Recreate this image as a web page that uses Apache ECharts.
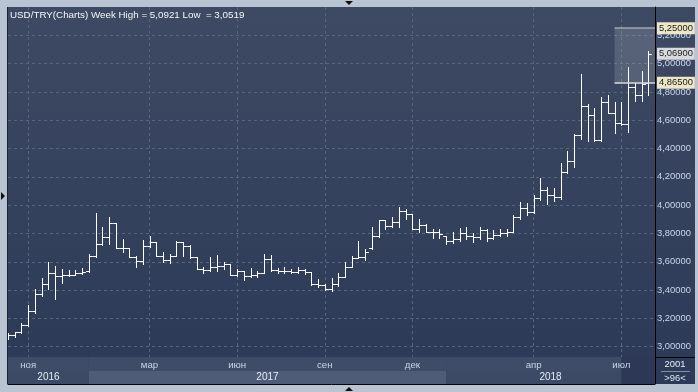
<!DOCTYPE html>
<html><head><meta charset="utf-8">
<script src="https://cdn.jsdelivr.net/npm/echarts@6/dist/echarts.min.js"></script>
<style>html,body{margin:0;padding:0;background:#b9c4d2;}#c{width:698px;height:392px;}</style>
</head><body><div id="c"></div><script>
// ---- data ----
const weeks = ['2016-10-10','2016-10-17','2016-10-24','2016-10-31','2016-11-07','2016-11-14','2016-11-21','2016-11-28','2016-12-05','2016-12-12',
'2016-12-19','2016-12-26','2017-01-01','2017-01-02','2017-01-09','2017-01-16','2017-01-23','2017-01-30','2017-02-06','2017-02-13',
'2017-02-20','2017-02-27','2017-03-06','2017-03-13','2017-03-20','2017-03-27','2017-04-03','2017-04-10','2017-04-17','2017-04-24',
'2017-05-01','2017-05-08','2017-05-15','2017-05-22','2017-05-29','2017-06-05','2017-06-12','2017-06-19','2017-06-26','2017-07-03',
'2017-07-10','2017-07-17','2017-07-24','2017-07-31','2017-08-07','2017-08-14','2017-08-21','2017-08-28','2017-09-04','2017-09-11',
'2017-09-18','2017-09-25','2017-10-02','2017-10-09','2017-10-16','2017-10-23','2017-10-30','2017-11-06','2017-11-13','2017-11-20',
'2017-11-27','2017-12-04','2017-12-11','2017-12-18','2017-12-25','2018-01-01','2018-01-08','2018-01-15','2018-01-22','2018-01-29',
'2018-02-05','2018-02-12','2018-02-19','2018-02-26','2018-03-05','2018-03-12','2018-03-19','2018-03-26','2018-04-02','2018-04-09',
'2018-04-16','2018-04-23','2018-04-30','2018-05-07','2018-05-14','2018-05-21','2018-05-28','2018-06-04','2018-06-11','2018-06-18',
'2018-06-25','2018-07-02','2018-07-09','2018-07-16','2018-07-23','2018-07-30','2018-08-06'];

const openP = [3.075,3.085,3.102,3.154,3.249,3.370,3.446,3.524,3.496,3.505,
3.510,3.520,3.534,3.640,3.728,3.774,3.875,3.698,3.700,3.631,
3.605,3.712,3.738,3.638,3.614,3.638,3.742,3.709,3.633,3.548,
3.543,3.560,3.572,3.584,3.505,3.536,3.500,3.505,3.520,3.619,
3.541,3.536,3.536,3.529,3.543,3.529,3.441,3.434,3.411,3.441,
3.491,3.560,3.624,3.631,3.700,3.785,3.892,3.856,3.880,3.956,
3.940,3.833,3.861,3.813,3.809,3.780,3.750,3.760,3.804,3.780,
3.774,3.821,3.770,3.790,3.804,3.809,3.916,3.982,3.951,4.051,
4.105,4.075,4.060,4.231,4.312,4.497,4.699,4.635,4.461,4.732,
4.651,4.580,4.570,4.838,4.778,4.860];

const highP = [3.095,3.102,3.168,3.297,3.411,3.482,3.600,3.572,3.548,3.543,
3.539,3.553,3.653,3.944,3.845,3.918,3.875,3.762,3.700,3.638,
3.752,3.785,3.738,3.667,3.655,3.750,3.742,3.719,3.633,3.560,
3.631,3.648,3.596,3.584,3.548,3.536,3.553,3.536,3.655,3.648,
3.553,3.560,3.548,3.560,3.548,3.529,3.477,3.441,3.482,3.524,
3.600,3.643,3.750,3.690,3.845,3.892,3.892,3.916,3.987,3.970,
3.940,3.904,3.868,3.833,3.828,3.785,3.809,3.838,3.845,3.804,
3.845,3.828,3.821,3.833,3.833,3.932,4.023,4.018,4.075,4.194,
4.130,4.120,4.295,4.383,4.502,4.929,4.715,4.687,4.763,4.777,
4.730,4.730,4.976,4.865,4.945,5.0921];

const lowP = [3.0519,3.069,3.098,3.149,3.240,3.358,3.406,3.339,3.453,3.500,
3.505,3.515,3.525,3.635,3.720,3.726,3.695,3.667,3.631,3.560,
3.581,3.705,3.638,3.596,3.591,3.638,3.638,3.624,3.548,3.524,
3.536,3.536,3.548,3.505,3.500,3.472,3.489,3.489,3.520,3.536,
3.524,3.524,3.520,3.524,3.512,3.434,3.425,3.401,3.394,3.429,
3.489,3.560,3.624,3.614,3.690,3.774,3.828,3.845,3.845,3.904,
3.828,3.809,3.809,3.767,3.767,3.726,3.735,3.750,3.760,3.740,
3.760,3.750,3.760,3.781,3.785,3.809,3.904,3.932,3.947,4.034,
4.011,4.030,4.040,4.224,4.272,4.470,4.450,4.454,4.454,4.651,
4.509,4.564,4.516,4.734,4.735,4.777];

const closeP = [3.085,3.102,3.154,3.249,3.370,3.446,3.524,3.496,3.505,3.510,
3.520,3.529,3.640,3.728,3.774,3.875,3.698,3.700,3.631,3.605,
3.712,3.738,3.638,3.614,3.638,3.742,3.709,3.633,3.548,3.543,
3.560,3.572,3.584,3.505,3.536,3.500,3.505,3.520,3.619,3.541,
3.536,3.536,3.529,3.543,3.529,3.441,3.434,3.411,3.441,3.491,
3.560,3.624,3.631,3.671,3.785,3.892,3.856,3.880,3.956,3.940,
3.833,3.861,3.813,3.809,3.797,3.750,3.760,3.804,3.780,3.774,
3.821,3.770,3.790,3.804,3.809,3.916,3.982,3.951,4.051,4.105,
4.075,4.060,4.231,4.312,4.497,4.699,4.635,4.461,4.732,4.651,
4.580,4.570,4.838,4.778,4.853,5.069];

const monthMarks = {'2016-10-31':'ноя','2017-02-27':'мар','2017-05-29':'июн','2017-08-28':'сен','2017-11-27':'дек','2018-04-02':'апр','2018-07-02':'июл'};
const yearBands = [['2016','2016-10-10','2017-01-01'],['2017','2017-01-01','2018-01-01'],['2018','2018-01-01','2018-08-06']];
const currentMonth = ['2018-07-02','2018-08-06'];
const boxFrom = '2018-06-25', boxTo = '2018-08-06';
const boxHigh = 5.25, boxLow = 4.865;
const lastClose = 5.069;
const yTicks = {min: 2.8, max: 5.4, step: 0.2};
const cornerTop = '2001', cornerBottom = '>96<';
const symbolName = 'USD/TRY(Charts) Week';

// ---- chart ----
const FONT = '"Liberation Sans",Arial,sans-serif';
const FS = 9.4;
const fmt = (v, d) => v.toFixed(d).replace('.', ',');
const maxH = Math.max(...highP), minL = Math.min(...lowP);
const titleText = symbolName + ' High = ' + fmt(maxH, 4) + ' Low  = ' + fmt(minL, 4);

const ohlc = openP.map((o, i) => [i, o, highP[i], lowP[i], closeP[i]]);
const bandData = yearBands.map(b => [weeks.indexOf(b[1]), weeks.indexOf(b[2]), b[0], 0]);
bandData.push([weeks.indexOf(currentMonth[0]), weeks.indexOf(currentMonth[1]), '', 1]);

const chart = echarts.init(document.getElementById('c'), null, {renderer: 'canvas'});
const tagLabel = (bg) => ({
  show: true, position: 'end', distance: 2, formatter: p => fmt(Number(p.value), 5),
  color: '#1a1a1a', backgroundColor: bg, padding: [2, 2, 1, 2], fontSize: FS, fontFamily: FONT
});

chart.setOption({
  animation: false,
  backgroundColor: '#b9c4d2',
  title: {text: titleText, left: 10, top: 10, padding: 0,
    textStyle: {color: '#f4f6fa', fontSize: 9.8, fontWeight: 'normal', fontFamily: FONT}},
  graphic: [
    {type: 'rect', z: -10, shape: {x: 8, y: 7, width: 687, height: 377},
      style: {fill: new echarts.graphic.LinearGradient(0, 0, 0, 1, [{offset: 0, color: '#3e4a63'}, {offset: 1, color: '#2c3957'}])}},
    {type: 'line', z: 100, shape: {x1: 7.5, y1: 7, x2: 7.5, y2: 384}, style: {stroke: '#1b2233', lineWidth: 1}},
    {type: 'line', z: 100, shape: {x1: 655.5, y1: 7, x2: 655.5, y2: 384}, style: {stroke: '#000', lineWidth: 1}},
    {type: 'line', z: 100, shape: {x1: 655, y1: 357.5, x2: 695, y2: 357.5}, style: {stroke: '#000', lineWidth: 1}},
    {type: 'line', z: 100, shape: {x1: 661, y1: 371.5, x2: 690, y2: 371.5}, style: {stroke: '#8190a8', lineWidth: 1}},
    {type: 'text', z: 100, x: 675, y: 364.5, style: {text: cornerTop, fill: '#e8eef8', font: FS + 'px ' + FONT, textAlign: 'center', textVerticalAlign: 'middle'}},
    {type: 'text', z: 100, x: 675, y: 378, style: {text: cornerBottom, fill: '#dfe6f2', font: FS + 'px ' + FONT, textAlign: 'center', textVerticalAlign: 'middle'}},
    {type: 'polygon', z: 100, shape: {points: [[345, 1], [353, 1], [349, 5]]}, style: {fill: '#111'}},
    {type: 'polygon', z: 100, shape: {points: [[1, 192], [1, 200], [5, 196]]}, style: {fill: '#111'}},
    {type: 'polygon', z: 100, shape: {points: [[345, 391], [353, 391], [349, 387]]}, style: {fill: '#111'}}
  ],
  grid: [
    {left: 8, top: 7, width: 647, height: 368, show: false},
    {left: 8, top: 357, width: 647, height: 27, show: false}
  ],
  xAxis: [
    {type: 'category', gridIndex: 0, data: weeks, boundaryGap: false,
      axisLine: {show: false}, axisTick: {show: false}, axisLabel: {show: false},
      splitLine: {show: true, interval: (i, v) => v in monthMarks, lineStyle: {color: '#56647e', type: [3, 3], width: 1}}},
    {type: 'category', gridIndex: 1, data: weeks, boundaryGap: false, position: 'top', z: 10,
      axisLine: {show: true, lineStyle: {color: '#000', width: 1}}, axisTick: {show: false},
      axisLabel: {inside: true, margin: 3, interval: (i, v) => v in monthMarks, formatter: v => monthMarks[v] || '',
        color: '#c9d4e4', fontSize: FS + 0.3, fontFamily: FONT},
      splitLine: {show: false}}
  ],
  yAxis: [
    {type: 'value', gridIndex: 0, position: 'right', min: yTicks.min, max: yTicks.max, interval: yTicks.step,
      axisLine: {show: true, lineStyle: {color: '#000'}}, axisTick: {show: false},
      axisLabel: {formatter: v => fmt(v, 5), color: '#c9d6ea', fontSize: FS, fontFamily: FONT, margin: 2,
        showMinLabel: false, showMaxLabel: false},
      splitLine: {show: true, showMaxLine: false, lineStyle: {color: '#56647e', type: [3, 3], width: 1}}},
    {type: 'value', gridIndex: 1, min: 0, max: 2, show: false}
  ],
  series: [
    {
      type: 'custom', xAxisIndex: 0, yAxisIndex: 0, data: ohlc, clip: true,
      encode: {x: 0, y: [1, 2, 3, 4]},
      renderItem: (params, api) => {
        const i = api.value(0);
        const o = api.coord([i, api.value(1)]);
        const h = api.coord([i, api.value(2)]);
        const l = api.coord([i, api.value(3)]);
        const c = api.coord([i, api.value(4)]);
        const half = api.size([1, 0])[0] / 2;
        const x = Math.round(h[0]) + 0.5;
        const sy = v => Math.round(v) + 0.5;
        const st = {stroke: '#ffffff', lineWidth: 1};
        return {type: 'group', children: [
          {type: 'line', shape: {x1: x, y1: Math.round(h[1]), x2: x, y2: Math.round(l[1]) + 1}, style: st},
          {type: 'line', shape: {x1: x - half, y1: sy(o[1]), x2: x, y2: sy(o[1])}, style: st},
          {type: 'line', shape: {x1: x, y1: sy(c[1]), x2: x + half, y2: sy(c[1])}, style: st}
        ]};
      },
      markArea: {silent: true, itemStyle: {color: 'rgba(255,255,255,0.14)'},
        data: [[{xAxis: boxFrom, yAxis: boxLow}, {xAxis: boxTo, yAxis: boxHigh}]]},
      markLine: {silent: true, symbol: ['none', 'none'], animation: false, precision: 5,
        data: [
          {yAxis: lastClose, value: lastClose, lineStyle: {color: 'rgba(0,0,0,0)', width: 0}, label: tagLabel('#d7dade')},
          [{coord: [boxFrom, boxHigh], value: boxHigh, lineStyle: {color: '#a1a8b5', width: 1.5, type: 'solid'}, label: tagLabel('#ede6c7')},
           {coord: [boxTo, boxHigh]}],
          [{coord: [boxFrom, boxLow], value: boxLow, lineStyle: {color: '#dcdcd5', width: 1.5, type: 'solid'}, label: tagLabel('#ede6c7')},
           {coord: [boxTo, boxLow]}]
        ]}
    },
    {
      type: 'custom', xAxisIndex: 1, yAxisIndex: 1, data: bandData, z: 5, clip: false,
      renderItem: (params, api) => {
        const cs = params.coordSys;
        const a = api.coord([api.value(0), 0])[0];
        const b = api.coord([api.value(1), 0])[0];
        const kind = api.value(3);
        const top = cs.y, mid = cs.y + 14, bot = cs.y + cs.height;
        if (kind === 1) {
          return {type: 'rect', shape: {x: a, y: top, width: b - a, height: bot - top}, style: {fill: '#2c3855'}};
        }
        const label = bandData[params.dataIndex][2];
        const light = Number(label) % 2 === 1;
        return {type: 'group', children: [
          {type: 'rect', shape: {x: a, y: top, width: b - a, height: mid - top}, style: {fill: '#3e4c68'}},
          {type: 'rect', shape: {x: a, y: mid, width: b - a, height: bot - mid}, style: {fill: light ? '#4e5c78' : '#3c4a66'}},
          {type: 'text', x: (a + b) / 2, y: (mid + bot) / 2, style: {text: label, fill: '#e4ebf6', font: (FS + 0.6) + 'px ' + FONT, textAlign: 'center', textVerticalAlign: 'middle'}}
        ]};
      }
    }
  ]
});
</script></body></html>
